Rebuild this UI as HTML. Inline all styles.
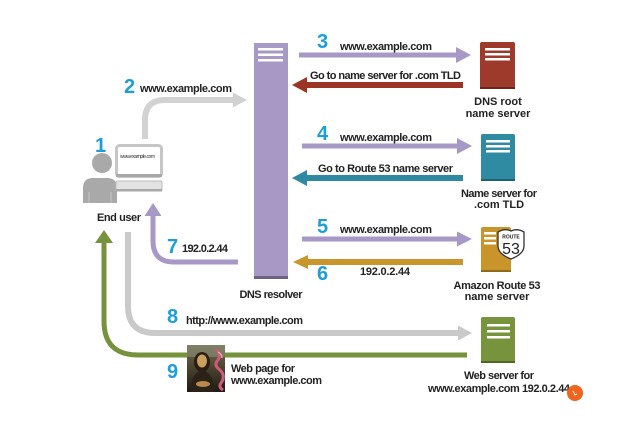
<!DOCTYPE html>
<html><head><meta charset="utf-8"><style>
html,body{margin:0;padding:0;background:#fff;}
svg{display:block;}
text{font-family:"Liberation Sans",Arial,sans-serif;}
.l{font-size:11px;font-weight:bold;fill:#222;}
.n{font-size:20px;font-weight:bold;fill:#1c9edb;}
</style></head><body>
<svg width="635" height="436" viewBox="0 0 635 436" xmlns="http://www.w3.org/2000/svg">
<defs>
<linearGradient id="ml" x1="0" y1="0" x2="0" y2="1"><stop offset="0" stop-color="#6f6a4a"/><stop offset="0.5" stop-color="#4a4230"/><stop offset="1" stop-color="#1e1a12"/></linearGradient>
</defs>
<rect width="635" height="436" fill="#fff"/>

<!-- DNS resolver column -->
<rect x="254" y="43" width="34" height="236" fill="#a898c6"/>
<rect x="254" y="276" width="34" height="3" fill="#6e6188"/>
<rect x="258" y="48" width="25" height="2.5" fill="#fff"/>
<rect x="258" y="53.5" width="25" height="2.5" fill="#fff"/>
<rect x="258" y="59" width="25" height="2.5" fill="#fff"/>
<text class="l" x="271" y="298" text-anchor="middle" textLength="63">DNS resolver</text>

<!-- DNS root server -->
<rect x="480" y="42" width="35" height="47" rx="2" fill="#9e3a2c"/>
<rect x="480" y="87" width="35" height="2" fill="#6e2519"/>
<rect x="485" y="48" width="25" height="2.5" fill="#fff"/>
<rect x="485" y="53" width="25" height="2.5" fill="#fff"/>
<rect x="485" y="58" width="25" height="2.5" fill="#fff"/>
<text class="l" x="498" y="105" text-anchor="middle">DNS root</text>
<text class="l" x="498" y="117" text-anchor="middle">name server</text>

<!-- TLD server -->
<rect x="481" y="134" width="34" height="47" rx="2" fill="#2f8ba2"/>
<rect x="481" y="179" width="34" height="2" fill="#1d6173"/>
<rect x="486" y="140" width="24" height="2.5" fill="#fff"/>
<rect x="486" y="145" width="24" height="2.5" fill="#fff"/>
<rect x="486" y="150" width="24" height="2.5" fill="#fff"/>
<text class="l" x="499" y="197" text-anchor="middle" textLength="76">Name server for</text>
<text class="l" x="499" y="208" text-anchor="middle">.com TLD</text>

<!-- Route 53 server -->
<rect x="481" y="227" width="30" height="45" rx="2" fill="#c7952a"/>
<rect x="481" y="270" width="30" height="2" fill="#8f6a18"/>
<rect x="484" y="232" width="12" height="2.5" fill="#fff"/>
<rect x="484" y="237" width="12" height="2.5" fill="#fff"/>
<rect x="484" y="242" width="12" height="2.5" fill="#fff"/>
<path d="M498,232 Q505,228 511,231 Q517,228 524,232 L524,246 Q524,254 511,259 Q498,254 498,246 Z" fill="#fff" stroke="#333" stroke-width="1.3"/>
<text x="511" y="238.5" text-anchor="middle" style="font-size:5px;font-weight:bold;fill:#222">ROUTE</text>
<text x="511" y="254" text-anchor="middle" style="font-size:16px;fill:#222">53</text>
<text class="l" x="497" y="289" text-anchor="middle" textLength="87">Amazon Route 53</text>
<text class="l" x="497" y="300" text-anchor="middle">name server</text>

<!-- Web server -->
<rect x="481" y="317" width="34" height="46" rx="2" fill="#77933c"/>
<rect x="481" y="361" width="34" height="2" fill="#4f6626"/>
<rect x="487" y="324" width="23" height="2.5" fill="#fff"/>
<rect x="487" y="330" width="23" height="2.5" fill="#fff"/>
<rect x="487" y="336" width="23" height="2.5" fill="#fff"/>
<text class="l" x="499" y="379" text-anchor="middle" textLength="70">Web server for</text>
<text class="l" x="428" y="392" textLength="142">www.example.com 192.0.2.44</text>
<circle cx="575" cy="393" r="8" fill="#f0641e"/>
<path d="M573,391 l2,4 l2,-1" stroke="#fff" stroke-width="1" fill="none"/>

<!-- Arrow 3 / red -->
<line x1="299" y1="55" x2="457" y2="55" stroke="#a898c6" stroke-width="5"/>
<polygon points="456,47 471,55 456,63" fill="#a898c6"/>
<line x1="306" y1="85" x2="463" y2="85" stroke="#9b3426" stroke-width="6"/>
<polygon points="307,77 292,85 307,93" fill="#9b3426"/>
<text class="n" x="317" y="48">3</text>
<text class="l" x="340" y="50" textLength="92">www.example.com</text>
<text class="l" x="310" y="79" textLength="151">Go to name server for .com TLD</text>

<!-- Arrow 4 / teal -->
<line x1="302" y1="146" x2="459" y2="146" stroke="#a898c6" stroke-width="5"/>
<polygon points="457,138 472,146 457,154" fill="#a898c6"/>
<line x1="306" y1="178" x2="463" y2="178" stroke="#2f8aa1" stroke-width="6"/>
<polygon points="307,170 292,178 307,186" fill="#2f8aa1"/>
<text class="n" x="317" y="140">4</text>
<text class="l" x="340" y="141" textLength="92">www.example.com</text>
<text class="l" x="318" y="172" textLength="135">Go to Route 53 name server</text>

<!-- Arrow 5 / gold -->
<line x1="302" y1="239" x2="459" y2="239" stroke="#a898c6" stroke-width="5"/>
<polygon points="457,231.5 472,239 457,246.5" fill="#a898c6"/>
<line x1="306" y1="262" x2="463" y2="262" stroke="#c8962a" stroke-width="6"/>
<polygon points="308,255 293,262 308,269" fill="#c8962a"/>
<text class="n" x="317" y="233">5</text>
<text class="l" x="340" y="233" textLength="92">www.example.com</text>
<text class="n" x="317" y="280">6</text>
<text class="l" x="360" y="275" textLength="50">192.0.2.44</text>

<!-- Arrow 2 gray -->
<path d="M145,139 V120 Q145,100 165,100 H234" fill="none" stroke="#d2d2d2" stroke-width="6"/>
<polygon points="233,92.5 247,100 233,107.5" fill="#d2d2d2"/>
<text class="n" x="124" y="93">2</text>
<text class="l" x="140" y="92" textLength="92">www.example.com</text>

<!-- Arrow 7 purple -->
<path d="M238,262 H174 Q153,262 153,241 V215" fill="none" stroke="#a898c6" stroke-width="5"/>
<polygon points="144.5,216 153,203 161.5,216" fill="#a898c6"/>
<text class="n" x="167" y="253">7</text>
<text class="l" x="182" y="252" textLength="46">192.0.2.44</text>

<!-- Arrow 8 gray -->
<path d="M128,232 V306 Q128,333 155,333 H459" fill="none" stroke="#c9c9c9" stroke-width="6"/>
<polygon points="458,325.5 472,333 458,340.5" fill="#c9c9c9"/>
<text class="n" x="167" y="323">8</text>
<text class="l" x="186" y="324" textLength="117">http://www.example.com</text>

<!-- Arrow 9 green -->
<path d="M467,355 H138 Q104,355 104,321 V241" fill="none" stroke="#76923c" stroke-width="5"/>
<polygon points="95,243 104,230 113,243" fill="#76923c"/>
<text class="n" x="167" y="378">9</text>
<text class="l" x="231" y="372" textLength="64">Web page for</text>
<text class="l" x="231" y="384" textLength="91">www.example.com</text>

<!-- Mona Lisa -->
<rect x="187" y="345" width="38" height="47" fill="url(#ml)"/>
<rect x="187" y="345" width="38" height="12" fill="#8a8f78" opacity="0.6"/>
<ellipse cx="202" cy="362" rx="8" ry="10" fill="#2a1e14"/>
<ellipse cx="202" cy="361" rx="5" ry="6.5" fill="#c9a15e"/>
<path d="M190,392 Q192,372 202,370 Q213,372 215,392 Z" fill="#2b2116"/>
<ellipse cx="203" cy="384" rx="7" ry="3" fill="#b88a4c"/>
<path d="M216,350 q6,4 2,10 q-5,5 2,10 q6,6 1,13 q-3,4 2,7" fill="none" stroke="#d05a7a" stroke-width="3"/>
<path d="M218,352 q4,2 4,6" fill="none" stroke="#f0a0b8" stroke-width="1.5"/>

<!-- End user -->
<circle cx="102" cy="163" r="10" fill="#a9a9a9"/>
<path d="M83,203 V188 Q83,178 93,178 H107 Q117,178 117,188 V203 Z" fill="#a9a9a9"/>
<line x1="89" y1="192" x2="89" y2="203" stroke="#c4c4c4" stroke-width="1"/>
<line x1="111" y1="192" x2="111" y2="203" stroke="#c4c4c4" stroke-width="1"/>
<rect x="116.5" y="145.5" width="45" height="31" rx="3" fill="#fff" stroke="#c6c6c6" stroke-width="3"/>
<rect x="116" y="174" width="46" height="3" fill="#a8a8a8"/>
<text x="120" y="158" style="font-size:5px;fill:#333" textLength="35">www.example.com</text>
<rect x="116" y="181" width="46" height="10" rx="1.5" fill="#e2e2e2" stroke="#bdbdbd" stroke-width="1"/>
<rect x="116" y="189" width="46" height="2.5" fill="#a9a9a9"/>
<text class="n" x="95" y="152">1</text>
<text class="l" x="97" y="221" textLength="44">End user</text>
</svg>
</body></html>
